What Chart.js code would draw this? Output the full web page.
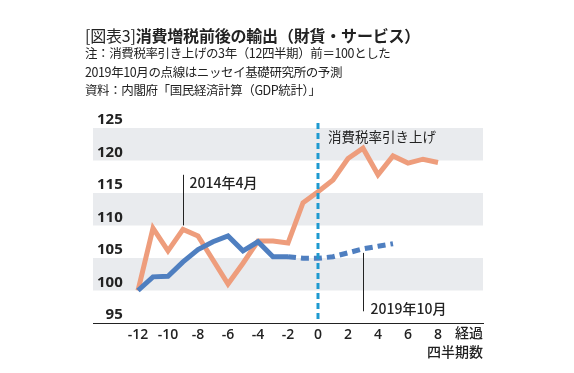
<!DOCTYPE html>
<html><head><meta charset="utf-8">
<script src="https://cdn.jsdelivr.net/npm/chart.js@4"></script>
<style>
html,body{margin:0;padding:0;background:#fff;}
#wrap{position:relative;width:574px;height:373px;overflow:hidden;background:#fff;}
canvas{position:absolute;left:0;top:0;}
.t{position:absolute;left:85px;white-space:nowrap;color:#222;font-family:"Noto Sans CJK JP","Noto Sans",sans-serif;line-height:1;}
#title{top:27px;font-size:16px;letter-spacing:-0.2px;}
#title span{font-weight:400;}
#title b{font-weight:700;}
.s{font-size:12.5px;letter-spacing:-0.4px;}
</style></head>
<body><div id="wrap">
<canvas id="c" width="574" height="373" style="width:574px;height:373px"></canvas>
<div class="t" id="title"><span>[図表3]</span><b>消費増税前後の輸出（財貨・サービス）</b></div>
<div class="t s" style="top:47px">注：消費税率引き上げの3年（12四半期）前＝100とした</div>
<div class="t s" style="top:66px">2019年10月の点線はニッセイ基礎研究所の予測</div>
<div class="t s" style="top:84px">資料：内閣府「国民経済計算（GDP統計）」</div>
</div>
<script>
// ---- data ----
const quarters = [-12,-11,-10,-9,-8,-7,-6,-5,-4,-3,-2,-1,0,1,2,3,4,5,6,7,8];
const exports2014 = [100,109.6,106.1,109.4,108.4,104.7,101,104.2,107.6,107.6,107.3,113.5,115.2,117,120.3,121.9,117.8,120.7,119.6,120.2,119.7];
const quarters2019 = [-12,-11,-10,-9,-8,-7,-6,-5,-4,-3,-2];
const exports2019 = [100,102.1,102.2,104.4,106.3,107.5,108.4,106.1,107.5,105.2,105.2];
const quarters2019f = [-2,-1,0,1,2,3,4,5];
const exports2019f = [105.2,104.95,104.95,105.2,105.8,106.4,106.8,107.2];
const xTicks = [-12,-10,-8,-6,-4,-2,0,2,4,6,8];
const yTicks = [95,100,105,110,115,120,125];
const bandRanges = [[100,105],[110,115],[120,125]];

const ORANGE = '#EE9D7C', BLUE = '#4F7FC0', CYAN = '#1E9AD0', INK = '#222';
const pts = (xs, ys) => xs.map((x,i) => ({x, y: ys[i]}));

const deco = {
  id: 'deco',
  beforeDraw(chart) {
    const {ctx, chartArea: a, scales: {x, y}} = chart;
    ctx.save();
    ctx.fillStyle = '#E9EBEE';
    bandRanges.forEach(([lo, hi]) => {
      const t = y.getPixelForValue(hi), b = y.getPixelForValue(lo);
      ctx.fillRect(a.left, t, a.right - a.left, b - t);
    });
    ctx.restore();
  },
  afterDatasetsDraw(chart) {
    const {ctx, chartArea: a, scales: {x, y}} = chart;
    ctx.save();
    const x0 = x.getPixelForValue(0);
    ctx.strokeStyle = CYAN; ctx.lineWidth = 3; ctx.setLineDash([6,4]);
    ctx.beginPath(); ctx.moveTo(x0, a.top - 5); ctx.lineTo(x0, a.bottom); ctx.stroke();
    ctx.setLineDash([]);
    ctx.strokeStyle = INK; ctx.lineWidth = 1;
    const xa = Math.round(x.getPixelForValue(-9)) + 0.5;
    ctx.beginPath(); ctx.moveTo(xa, y.getPixelForValue(117.8)); ctx.lineTo(xa, y.getPixelForValue(exports2014[3]) - 4); ctx.stroke();
    const xb = Math.round(x.getPixelForValue(3)) + 0.5;
    ctx.beginPath(); ctx.moveTo(xb, y.getPixelForValue(exports2019f[5]) + 4); ctx.lineTo(xb, y.getPixelForValue(96.8)); ctx.stroke();
    ctx.fillStyle = INK; ctx.textBaseline = 'middle'; ctx.textAlign = 'left';
    ctx.font = '500 14px "Noto Sans CJK JP"';
    ctx.fillText('2014年4月', xa + 6, y.getPixelForValue(116.6));
    ctx.fillText('2019年10月', xb + 7, y.getPixelForValue(97.2));
    ctx.font = '400 13.5px "Noto Sans CJK JP"';
    ctx.fillText('消費税率引き上げ', x0 + 10, y.getPixelForValue(123.6));
    ctx.textAlign = 'right';
    ctx.font = '500 14px "Noto Sans CJK JP"';
    ctx.fillText('経過', a.right, a.bottom + 10);
    ctx.fillText('四半期数', a.right, a.bottom + 29);
    ctx.restore();
  }
};

new Chart(document.getElementById('c'), {
  type: 'line',
  data: {
    datasets: [
      {label: '2014年4月', order: 2, data: pts(quarters, exports2014), borderColor: ORANGE, borderWidth: 5, pointRadius: 0, tension: 0},
      {label: '2019年10月', order: 1, data: pts(quarters2019, exports2019), borderColor: BLUE, borderWidth: 5, pointRadius: 0, tension: 0},
      {label: '2019年10月予測', order: 1, data: pts(quarters2019f, exports2019f), borderColor: BLUE, borderWidth: 5, borderDash: [8,5], pointRadius: 0, tension: 0}
    ]
  },
  options: {
    responsive: false, animation: false, devicePixelRatio: 1,
    layout: {padding: {left: 93, right: 91, top: 128, bottom: 0}},
    plugins: {legend: {display: false}, tooltip: {enabled: false}},
    scales: {
      x: {
        type: 'linear', min: -15, max: 11,
        afterBuildTicks: s => { s.ticks = xTicks.map(v => ({value: v})); },
        afterFit: s => { s.height = 50; },
        grid: {display: false, drawTicks: false},
        border: {display: true, color: INK, width: 1},
        ticks: {autoSkip: false, maxRotation: 0, padding: 4, color: INK,
          font: {family: '"Open Sans"', size: 14, weight: '600'},
          callback: v => String(v)}
      },
      y: {
        min: 95, max: 125,
        afterBuildTicks: s => { s.ticks = yTicks.map(v => ({value: v})); },
        afterFit: s => { s.width = 0; },
        grid: {display: false, drawTicks: false},
        border: {display: false},
        ticks: {autoSkip: false, mirror: true, crossAlign: 'far', padding: 4, labelOffset: -8, color: INK,
          font: {family: '"Open Sans"', size: 15, weight: '700'}}
      }
    }
  },
  plugins: [deco]
});
</script>
</body></html>
